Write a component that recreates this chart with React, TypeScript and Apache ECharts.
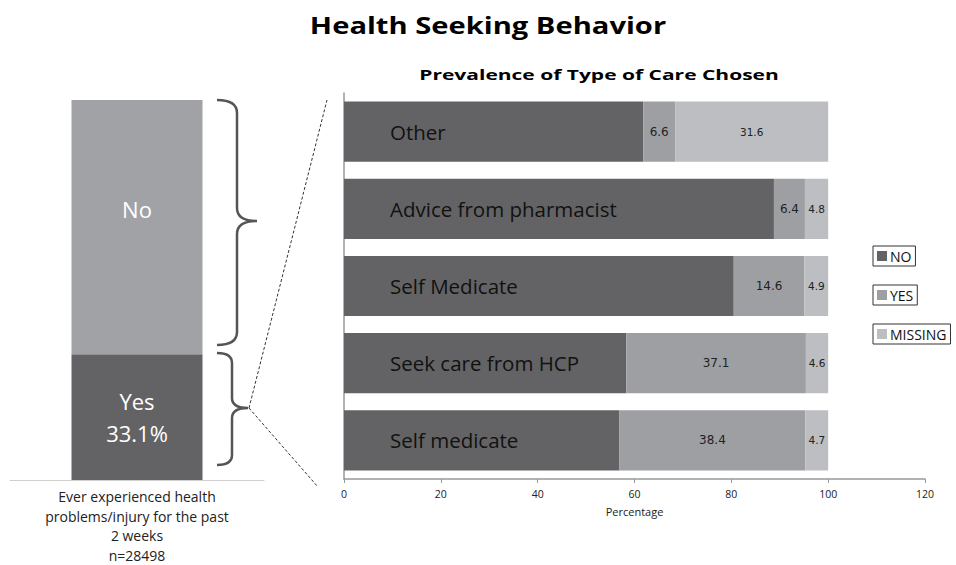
import React, { useEffect, useRef } from "react";
import * as echarts from "echarts";

// ---- Data ----
const categories = ["Other", "Advice from pharmacist", "Self Medicate", "Seek care from HCP", "Self medicate"];
const noValues = [61.8, 88.8, 80.5, 58.3, 56.9];
const yesValues = [6.6, 6.4, 14.6, 37.1, 38.4];
const missingValues = [31.6, 4.8, 4.9, 4.6, 4.7];
const seriesNames = ["NO", "YES", "MISSING"];

const leftCategory = ["Ever experienced health\nproblems/injury for the past\n2 weeks\nn=28498"];
const leftYes = [33.1];
const leftNo = [66.9];

const mainTitle = "Health Seeking Behavior";
const subTitle = "Prevalence of Type of Care Chosen";

const xMin = 0;
const xMax = 120;
const xInterval = 20;

const C_NO = "#636365";
const C_YES = "#9e9fa3";
const C_MISSING = "#bdbec1";
const FONT = "Open Sans";

echarts.graphic.registerShape(
  "braceTop",
  echarts.graphic.extendPath(
    "M 217 100 Q 237 100 237 113 L 237 208 Q 237 221 257 221 Q 237 221 237 234 L 237 332 Q 237 345 217 345",
    {}
  )
);
echarts.graphic.registerShape(
  "braceBottom",
  echarts.graphic.extendPath(
    "M 217 353 Q 232 353 232 363 L 232 398 Q 232 408 248 408 Q 232 408 232 418 L 232 455 Q 232 465 217 465",
    {}
  )
);

export default function App() {
  const ref = useRef<HTMLDivElement>(null);
  useEffect(() => {
    if (!ref.current) return;
    const chart = echarts.init(ref.current, null, { renderer: "svg" });
    const legendBase = {
      orient: "vertical",
      left: 873,
      borderColor: "#333",
      borderWidth: 1,
      padding: [3, 4, 3, 4],
      itemWidth: 10,
      itemHeight: 10,
      itemGap: 5,
      icon: "rect",
      textStyle: { fontFamily: FONT, fontSize: 14, color: "#111", padding: [0, 0, 0, -2] },
    };
    chart.setOption({
      animation: false,
      backgroundColor: "#ffffff",
      textStyle: { fontFamily: FONT },
      legend: [
        { ...legendBase, top: 246, data: ["NO"] },
        { ...legendBase, top: 285, data: ["YES"] },
        { ...legendBase, top: 324, data: ["MISSING"] },
      ],
      grid: [
        { left: 344, right: 31, top: 93, bottom: 86 },
        { left: 10, width: 254, top: 100, bottom: 82 },
      ],
      xAxis: [
        {
          type: "value",
          gridIndex: 0,
          min: xMin,
          max: xMax,
          interval: xInterval,
          name: "Percentage",
          nameLocation: "middle",
          nameGap: 27,
          nameTextStyle: { fontFamily: FONT, fontSize: 11, color: "#222" },
          axisLine: { show: true, lineStyle: { color: "#999", width: 1.5 } },
          axisTick: { show: true, length: 4, lineStyle: { color: "#999" } },
          axisLabel: { fontFamily: FONT, fontSize: 10.5, color: "#222", margin: 9 },
          splitLine: { show: false },
        },
        {
          type: "category",
          gridIndex: 1,
          data: leftCategory,
          axisLine: { show: true, lineStyle: { color: "#cfcfcf", width: 1 } },
          axisTick: { show: false },
          axisLabel: { fontFamily: FONT, fontSize: 14, color: "#222", lineHeight: 19.5, margin: 7 },
        },
      ],
      yAxis: [
        {
          type: "category",
          gridIndex: 0,
          data: categories,
          inverse: true,
          axisLine: { show: true, lineStyle: { color: "#999", width: 1.5 } },
          axisTick: { show: false },
          axisLabel: { show: false },
        },
        {
          type: "value",
          gridIndex: 1,
          min: 0,
          max: 100,
          show: false,
        },
      ],
      series: [
        {
          name: seriesNames[0],
          type: "bar",
          stack: "care",
          xAxisIndex: 0,
          yAxisIndex: 0,
          data: noValues,
          barCategoryGap: "22%",
          itemStyle: { color: C_NO },
          label: {
            show: true,
            position: "insideLeft",
            distance: 46,
            formatter: (p: any) => p.name,
            fontFamily: FONT,
            fontSize: 20.5,
            color: "#111",
          },
        },
        {
          name: seriesNames[1],
          type: "bar",
          stack: "care",
          xAxisIndex: 0,
          yAxisIndex: 0,
          data: yesValues,
          itemStyle: { color: C_YES },
          label: { show: true, position: "inside", fontFamily: "DejaVu Sans", fontSize: 12, color: "#222" },
        },
        {
          name: seriesNames[2],
          type: "bar",
          stack: "care",
          xAxisIndex: 0,
          yAxisIndex: 0,
          data: missingValues,
          itemStyle: { color: C_MISSING },
          label: { show: true, position: "inside", fontFamily: "DejaVu Sans", fontSize: 10.5, color: "#222" },
        },
        {
          name: "Yes (overall)",
          type: "bar",
          stack: "overall",
          xAxisIndex: 1,
          yAxisIndex: 1,
          data: leftYes,
          barWidth: 131,
          itemStyle: { color: C_NO },
          label: {
            show: true,
            position: "inside",
            formatter: (p: any) => `Yes\n${p.value}%`,
            fontFamily: FONT,
            fontSize: 22,
            lineHeight: 32,
            color: "#fff",
          },
        },
        {
          name: "No (overall)",
          type: "bar",
          stack: "overall",
          xAxisIndex: 1,
          yAxisIndex: 1,
          data: leftNo,
          barWidth: 131,
          itemStyle: { color: "#a1a2a6" },
          label: {
            show: true,
            position: "inside",
            offset: [0, -18],
            formatter: () => "No",
            fontFamily: FONT,
            fontSize: 22,
            color: "#fff",
          },
        },
      ],
      graphic: [
        {
          type: "text",
          x: 488,
          y: 25,
          scaleX: 1.24,
          style: {
            text: mainTitle,
            align: "center",
            verticalAlign: "middle",
            fontFamily: FONT,
            fontSize: 23.5,
            fontWeight: "bold",
            fill: "#000",
          },
        },
        {
          type: "text",
          x: 599,
          y: 74,
          scaleX: 1.4,
          style: {
            text: subTitle,
            align: "center",
            verticalAlign: "middle",
            fontFamily: FONT,
            fontSize: 15,
            fontWeight: "bold",
            fill: "#000",
          },
        },
        { type: "braceTop", x: 0, y: 0, style: { fill: "none", stroke: "#555", lineWidth: 2.5 } },
        { type: "braceBottom", x: 0, y: 0, style: { fill: "none", stroke: "#555", lineWidth: 2.5 } },
        {
          type: "line",
          shape: { x1: 249, y1: 408, x2: 327, y2: 100 },
          style: { stroke: "#333", lineWidth: 1, lineDash: [3, 2] },
        },
        {
          type: "line",
          shape: { x1: 249, y1: 408, x2: 318, y2: 487 },
          style: { stroke: "#333", lineWidth: 1, lineDash: [3, 2] },
        },
      ],
    });
    return () => chart.dispose();
  }, []);
  return <div ref={ref} style={{ position: "fixed", left: 0, top: 0, width: 956, height: 565 }} />;
}
